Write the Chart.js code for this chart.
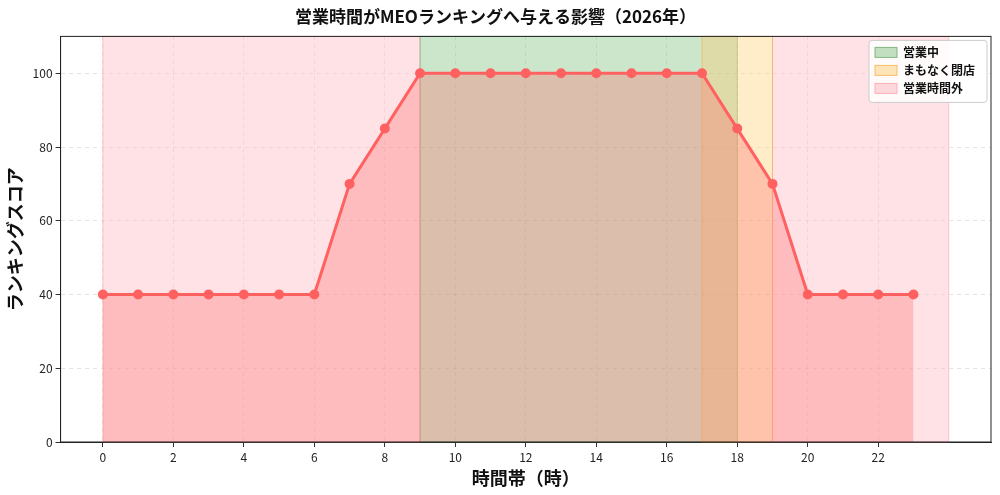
<!DOCTYPE html>
<html><head><meta charset="utf-8">
<script src="https://cdn.jsdelivr.net/npm/chart.js@4"></script>
<style>body{margin:0;background:#fff}#wrap{width:1000px;height:495px}</style>
</head><body><div id="wrap"><canvas id="c"></canvas></div>
<script>
const hours = [0,1,2,3,4,5,6,7,8,9,10,11,12,13,14,15,16,17,18,19,20,21,22,23];
const scores = [40,40,40,40,40,40,40,70,85,100,100,100,100,100,100,100,100,100,85,70,40,40,40,40];
const xTicks = [0,2,4,6,8,10,12,14,16,18,20,22];
const yTicks = [0,20,40,60,80,100];
const spans = [
    { from: 0, to: 9, color: 'rgba(255,182,193,0.4)', edge: 'rgba(255,150,160,0.5)' },
    { from: 19, to: 24, color: 'rgba(255,182,193,0.4)', edge: 'rgba(255,150,160,0.5)' },
    { from: 9, to: 18, color: 'rgba(120,190,120,0.38)', edge: 'rgba(90,160,90,0.5)' },
    { from: 17, to: 19, color: 'rgba(255,200,100,0.35)', edge: 'rgba(240,170,60,0.5)' },
];
const legendItems = [
    { label: '営業中', color: 'rgba(120,190,120,0.45)', edge: 'rgba(90,160,90,0.7)' },
    { label: 'まもなく閉店', color: 'rgba(255,200,100,0.45)', edge: 'rgba(240,170,60,0.7)' },
    { label: '営業時間外', color: 'rgba(255,182,193,0.5)', edge: 'rgba(255,150,160,0.7)' },
];
const font = "'Noto Sans CJK JP', 'DejaVu Sans', sans-serif";

const spanPlugin = {
    id: 'spans',
    beforeDatasetsDraw(chart) {
        const { ctx, chartArea: a, scales: { x } } = chart;
        ctx.save();
        spans.forEach((s) => {
            const x0 = x.getPixelForValue(s.from), x1 = x.getPixelForValue(s.to);
            ctx.fillStyle = s.color;
            ctx.fillRect(x0, a.top, x1 - x0, a.bottom - a.top);
            ctx.strokeStyle = s.edge;
            ctx.lineWidth = 1;
            ctx.strokeRect(x0, a.top, x1 - x0, a.bottom - a.top);
        });
        ctx.restore();
    },
    afterDraw(chart) {
        const { ctx, chartArea: a } = chart;
        ctx.save();
        ctx.strokeStyle = '#222';
        ctx.lineWidth = 1;
        ctx.strokeRect(a.left, a.top, a.right - a.left, a.bottom - a.top);
        const w = 118, h = 62, lx = a.right - w - 4, ly = a.top + 4;
        ctx.fillStyle = 'rgba(255,255,255,0.85)';
        ctx.strokeStyle = '#ccc';
        ctx.beginPath();
        ctx.roundRect(lx, ly, w, h, 3);
        ctx.fill();
        ctx.stroke();
        ctx.font = `bold 12px ${font}`;
        ctx.textBaseline = 'middle';
        legendItems.forEach((it, i) => {
            const y = ly + 12 + i * 18;
            ctx.fillStyle = it.color;
            ctx.strokeStyle = it.edge;
            ctx.fillRect(lx + 6, y - 5, 22, 10);
            ctx.strokeRect(lx + 6, y - 5, 22, 10);
            ctx.fillStyle = '#111';
            ctx.fillText(it.label, lx + 34, y);
        });
        ctx.restore();
    },
};

new Chart(document.getElementById('c'), {
    type: 'line',
    data: {
        datasets: [{
            data: hours.map((h, i) => ({ x: h, y: scores[i] })),
            borderColor: '#ff6161',
            backgroundColor: 'rgba(255,110,110,0.33)',
            fill: 'origin',
            borderWidth: 3,
            pointRadius: 3.5,
            pointBackgroundColor: '#ff6161',
            pointBorderColor: '#ff6161',
            tension: 0,
        }],
    },
    options: {
        responsive: true,
        maintainAspectRatio: false,
        animation: false,
        layout: { padding: { left: 0, right: 9, top: 2, bottom: 2 } },
        scales: {
            x: {
                type: 'linear', min: -1.2, max: 25.2,
                afterBuildTicks: (s) => { s.ticks = xTicks.map((v) => ({ value: v })); },
                ticks: { color: '#222', font: { size: 12, family: font } },
                grid: { color: 'rgba(0,0,0,0.1)', tickColor: '#333', tickLength: 5 },
                border: { color: '#222', dash: [4, 4] },
                title: { display: true, text: '時間帯（時）', color: '#111', font: { size: 18, weight: 'bold', family: font }, padding: { top: 0 } },
            },
            y: {
                min: 0, max: 110,
                afterBuildTicks: (s) => { s.ticks = yTicks.map((v) => ({ value: v })); },
                ticks: { color: '#222', font: { size: 12, family: font } },
                grid: { color: 'rgba(0,0,0,0.1)', tickColor: '#333', tickLength: 5 },
                border: { color: '#222', dash: [4, 4] },
                title: { display: true, text: 'ランキングスコア', color: '#111', font: { size: 18, weight: 'bold', family: font } },
            },
        },
        plugins: {
            legend: { display: false },
            tooltip: { enabled: false },
            title: { display: true, text: '営業時間がMEOランキングへ与える影響（2026年）', color: '#111', font: { size: 17, weight: 'bold', family: font }, padding: { top: 4, bottom: 10 } },
        },
    },
    plugins: [spanPlugin],
});
</script></body></html>
